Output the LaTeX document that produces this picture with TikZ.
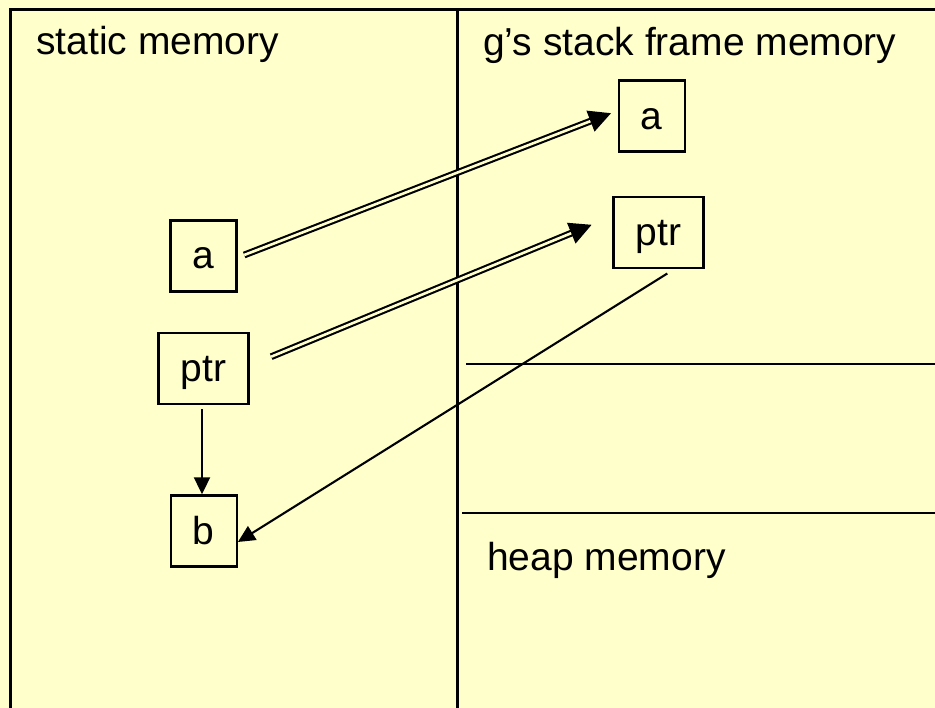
\documentclass[tikz,border=0pt]{standalone}
\usepackage{fontspec}
\setmainfont{Liberation Sans}
\usetikzlibrary{arrows.meta}
\definecolor{paper}{HTML}{FFFFCC}
\begin{document}
\begin{tikzpicture}[x=1pt,y=-1pt,
  frame/.style={line width=2.3pt},
  cell/.style={draw, line width=2.4pt, inner sep=0pt, minimum height=71pt,
    text height=28pt, text depth=2pt, font=\fontsize{39}{46}\selectfont},
  title/.style={anchor=base west, inner sep=0pt, font=\fontsize{39}{46}\selectfont},
  ref/.style={double=paper, double distance=2.6pt, line width=2.1pt,
    -{Triangle[length=22pt,width=22pt]}},
  link/.style={line width=2.1pt, -{Triangle[length=17pt,width=16pt]}}]

% page and memory regions
\fill[paper] (0,0) rectangle (935,708);
\useasboundingbox (0,0) rectangle (935,708);
\draw[frame] (10.5,708) -- (10.5,9.5) -- (935,9.5);
\draw[frame] (457.5,9.5) -- (457.5,708);
\draw[frame] (466,364) -- (935,364);
\draw[frame] (462,513) -- (935,513);

% region titles
\node[title] (tstatic) at (36,55) {static memory};
\node[title] (tstack) at (483,56) {g’s stack frame memory};
\node[title] (theap) at (487,570) {heap memory};

% variables in static memory
\node[cell, minimum width=66pt] (a) at (203.5,256) {a};
\node[cell, minimum width=90pt] (ptr) at (203.5,368.7) {ptr};
\node[cell, minimum width=66pt] (b) at (203.7,531) {b};

% parameters in g's stack frame
\node[cell, minimum width=66pt] (ga) at (651.7,116.2) {a};
\node[cell, minimum width=90pt] (gptr) at (658.3,232.8) {ptr};

% reference parameters
\draw[ref] ([shift={(6.5,-1)}]a.east) -- ([shift={(-6.5,-3)}]ga.west);
\draw[ref] ([shift={(21.5,-12)}]ptr.east) -- ([shift={(-20.5,-8)}]gptr.west);

% pointer values
\draw[link] ([shift={(9,4)}]gptr.south) -- ([yshift=-11]b.east);
\draw[link] ([shift={(-1.5,4)}]ptr.south) -- ([xshift=-1.5]ptr.south |- b.north);
\end{tikzpicture}
\end{document}
